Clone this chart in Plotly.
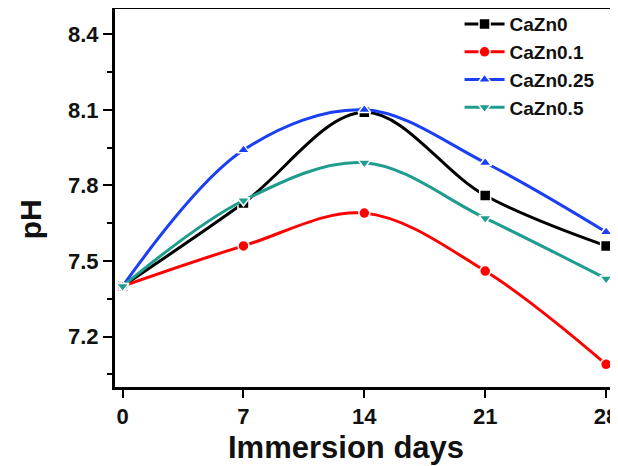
import plotly.graph_objects as go

days = [0, 7, 14, 21, 28]
series_names = ["CaZn0", "CaZn0.1", "CaZn0.25", "CaZn0.5"]
ph_cazn0 = [7.40, 7.73, 8.09, 7.76, 7.56]
ph_cazn01 = [7.40, 7.56, 7.69, 7.46, 7.09]
ph_cazn025 = [7.40, 7.94, 8.10, 7.89, 7.615]
ph_cazn05 = [7.40, 7.74, 7.89, 7.67, 7.43]
y_ticks = [7.2, 7.5, 7.8, 8.1, 8.4]
x_ticks = [0, 7, 14, 21, 28]

colors = ["#000000", "#ff0000", "#1a3ff5", "#1f9c8e"]
symbols = ["square", "circle", "triangle-up", "triangle-down"]
values = [ph_cazn0, ph_cazn01, ph_cazn025, ph_cazn05]

fig = go.Figure()
for name, vals, c, s in zip(series_names, values, colors, symbols):
    fig.add_trace(go.Scatter(
        x=days, y=vals, name=name, mode="lines+markers",
        line=dict(color=c, width=3, shape="spline", smoothing=1.0),
        marker=dict(symbol=s, size=11, color=c, line=dict(color="white", width=1.5)),
    ))

font_family = "Liberation Sans, Arial, sans-serif"
title_font = dict(size=31, family=font_family, color="#111111", weight="bold")
fig.update_layout(
    width=610, height=458,
    margin=dict(l=107, r=0, t=1, b=79, autoexpand=False),
    paper_bgcolor="white", plot_bgcolor="white",
    font=dict(family=font_family, color="#111111"),
    showlegend=True,
    legend=dict(
        x=0.685, y=1.01, xanchor="left", yanchor="top",
        bgcolor="rgba(0,0,0,0)",
        font=dict(size=19, family=font_family, color="#111111", weight="bold"),
        tracegroupgap=0, itemwidth=40,
    ),
    xaxis=dict(
        range=[-0.44, 28.69], tickvals=x_ticks, ticktext=[str(v) for v in x_ticks],
        showgrid=False, zeroline=False, automargin=False, ticklabeloverflow="allow",
        showline=True, linecolor="black", linewidth=3, mirror=True,
        ticks="outside", ticklen=8, tickwidth=2, tickcolor="black",
        tickfont=dict(size=22, family=font_family, color="#111111", weight="bold"),
    ),
    yaxis=dict(
        range=[7.0, 8.5], tickvals=y_ticks, ticktext=[f"{v:.1f}" for v in y_ticks],
        showgrid=False, zeroline=False, automargin=False,
        showline=True, linecolor="black", linewidth=3, mirror=False,
        ticks="outside", ticklen=9, tickwidth=2, tickcolor="black",
        minor=dict(tickvals=[7.05, 7.35, 7.65, 7.95, 8.25], ticks="outside", ticklen=5,
                   tickwidth=2, tickcolor="black"),
        tickfont=dict(size=22, family=font_family, color="#111111", weight="bold"),
    ),
    annotations=[
        dict(text="Immersion days", xref="paper", yref="paper", x=0.459, y=-0.16,
             xanchor="center", yanchor="middle", showarrow=False, font=title_font),
        dict(text="pH", xref="paper", yref="paper", x=-0.168, y=0.445, textangle=-90,
             xanchor="center", yanchor="middle", showarrow=False,
             font=dict(size=30, family=font_family, color="#111111", weight="bold")),
    ],
)

fig.write_html("out.html")
